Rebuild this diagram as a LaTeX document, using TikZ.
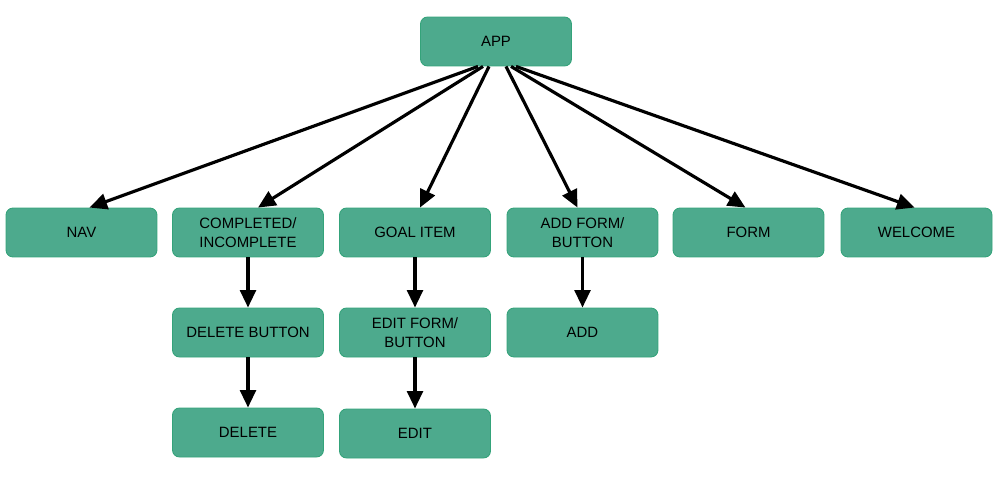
\documentclass[tikz,border=0pt]{standalone}
\usepackage{fontspec}
\setmainfont{Liberation Sans}
\usetikzlibrary{arrows.meta}
\definecolor{boxfill}{HTML}{4DAA8D}
\definecolor{boxline}{HTML}{34A37A}
\begin{document}
\begin{tikzpicture}[x=0.02cm,y=-0.02cm,
  box/.style={draw=boxline,line width=0.5pt,fill=boxfill,rounded corners=4pt,
    minimum width=3.02cm,minimum height=0.98cm,
    align=center,font=\fontsize{8.5}{10.5}\selectfont,text=black,inner sep=1pt},
  link/.style={line width=1.8pt,draw=black,-{Triangle[length=10pt,width=9pt]}}]
\useasboundingbox (0,0) rectangle (1000,490);
\node[box] (app) at (496,41.5) {APP};
\node[box] (nav) at (81.5,232.5) {NAV};
\node[box] (comp) at (248,232.5) {COMPLETED/\\INCOMPLETE};
\node[box] (goal) at (415,232.5) {GOAL ITEM};
\node[box] (addform) at (582.5,232.5) {ADD FORM/\\BUTTON};
\node[box] (form) at (748.5,232.5) {FORM};
\node[box] (welcome) at (916.5,232.5) {WELCOME};
\node[box] (delbtn) at (248,332.5) {DELETE BUTTON};
\node[box] (editform) at (415,332.5) {EDIT FORM/\\BUTTON};
\node[box] (add) at (582.5,332.5) {ADD};
\node[box] (del) at (248,432.5) {DELETE};
\node[box] (edit) at (415,433.5) {EDIT};
% fan-out from the root
\draw[link] ([xshift=-0.36cm]app.south) -- ([xshift=0.16cm]nav.north);
\draw[link] ([xshift=-0.26cm]app.south) -- ([xshift=0.2cm]comp.north);
\draw[link] ([xshift=-0.14cm]app.south) -- ([xshift=0.1cm]goal.north);
\draw[link] ([xshift=0.2cm]app.south) -- ([xshift=-0.1cm]addform.north);
\draw[link] ([xshift=0.3cm]app.south) -- ([xshift=-0.06cm]form.north);
\draw[link] ([xshift=0.4cm]app.south) -- ([xshift=-0.04cm]welcome.north);
% vertical chains
\draw[link] (comp) -- (delbtn);
\draw[link] (delbtn) -- (del);
\draw[link] (goal) -- (editform);
\draw[link] (editform) -- (edit);
\draw[link] (addform) -- (add);
\end{tikzpicture}
\end{document}
